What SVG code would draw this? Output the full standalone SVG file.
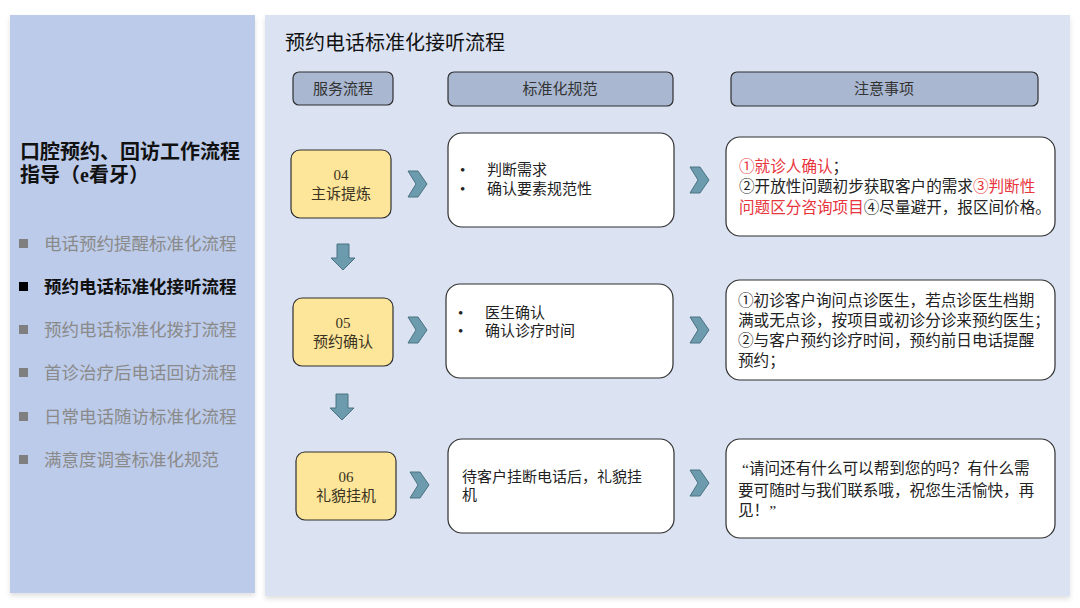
<svg xmlns="http://www.w3.org/2000/svg" width="1080" height="608" viewBox="0 0 1080 608">
<defs>
<style>
.t{font-family:"Liberation Serif","Noto Sans CJK SC",serif;}
.hdr{fill:#a9b7d1;stroke:#2f2f2f;stroke-width:1.2;}
.yel{fill:#fde69a;stroke:#2f2f2f;stroke-width:1.2;}
.wht{fill:#ffffff;stroke:#2f2f2f;stroke-width:1.2;}
.chev{fill:#6c9bad;stroke:#4b7282;stroke-width:1;}
.htxt{font-size:15px;fill:#333;text-anchor:middle;}
.ytxt{font-size:15px;fill:#3b3322;text-anchor:middle;}
.btxt{font-size:15px;fill:#222;}
.ntxt{font-size:15.6px;fill:#222;}
.red{fill:#e8343c;}
.menu{font-size:17.5px;fill:#8a8a8a;}
.sq{fill:#7f7f7f;}
</style>
<filter id="sh" x="-5%" y="-5%" width="110%" height="110%">
<feDropShadow dx="0" dy="3" stdDeviation="2.5" flood-color="#000" flood-opacity="0.12"/>
</filter>
</defs>
<rect width="1080" height="608" fill="#ffffff"/>
<g id="left-panel">
<rect x="10" y="15" width="245" height="578" fill="#bccbe9" filter="url(#sh)"/>
<text class="t" x="20" y="159" font-size="20" fill="#111" font-weight="bold">口腔预约、回访工作流程</text>
<text class="t" x="20" y="182" font-size="20" fill="#111" font-weight="bold">指导（e看牙）</text>
<rect class="sq" x="19" y="239" width="9" height="9"/>
<text class="t menu" x="44" y="250">电话预约提醒标准化流程</text>
<rect x="19" y="282" width="9" height="9" fill="#000"/>
<text class="t menu" x="44" y="293" fill="#111" style="fill:#111" font-weight="bold">预约电话标准化接听流程</text>
<rect class="sq" x="19" y="325" width="9" height="9"/>
<text class="t menu" x="44" y="336">预约电话标准化拨打流程</text>
<rect class="sq" x="19" y="368" width="9" height="9"/>
<text class="t menu" x="44" y="379">首诊治疗后电话回访流程</text>
<rect class="sq" x="19" y="412" width="9" height="9"/>
<text class="t menu" x="44" y="423">日常电话随访标准化流程</text>
<rect class="sq" x="19" y="455" width="9" height="9"/>
<text class="t menu" x="44" y="466">满意度调查标准化规范</text>
</g>
<g id="right-panel">
<rect x="265" y="15" width="805" height="581" fill="#dbe3f3" filter="url(#sh)"/>
<text class="t" x="285" y="50" font-size="20" fill="#111">预约电话标准化接听流程</text>
</g>
<g id="header-service">
<rect class="hdr" x="293" y="72" width="100" height="33" rx="6"/>
<text class="t htxt" x="343" y="94">服务流程</text>
</g>
<g id="header-standard">
<rect class="hdr" x="448" y="72" width="225" height="34" rx="6"/>
<text class="t htxt" x="560" y="94">标准化规范</text>
</g>
<g id="header-notes">
<rect class="hdr" x="731" y="72" width="307" height="34" rx="6"/>
<text class="t htxt" x="884" y="94">注意事项</text>
</g>
<g id="step-04">
<rect class="yel" x="291" y="150" width="100" height="68" rx="9"/>
<text class="t ytxt" x="341" y="180">04</text>
<text class="t ytxt" x="341" y="199">主诉提炼</text>
</g>
<g id="step-05">
<rect class="yel" x="293" y="298" width="100" height="68" rx="9"/>
<text class="t ytxt" x="343" y="328">05</text>
<text class="t ytxt" x="343" y="347">预约确认</text>
</g>
<g id="step-06">
<rect class="yel" x="296" y="452" width="100" height="68" rx="9"/>
<text class="t ytxt" x="346" y="482">06</text>
<text class="t ytxt" x="346" y="501">礼貌挂机</text>
</g>
<g id="std-04">
<rect class="wht" x="448" y="133" width="226" height="94" rx="14"/>
<text class="t btxt" x="460" y="175">•</text>
<text class="t btxt" x="487" y="175">判断需求</text>
<text class="t btxt" x="460" y="194">•</text>
<text class="t btxt" x="487" y="194">确认要素规范性</text>
</g>
<g id="std-05">
<rect class="wht" x="446" y="284" width="227" height="94" rx="14"/>
<text class="t btxt" x="458" y="318">•</text>
<text class="t btxt" x="485" y="318">医生确认</text>
<text class="t btxt" x="458" y="336">•</text>
<text class="t btxt" x="485" y="336">确认诊疗时间</text>
</g>
<g id="std-06">
<rect class="wht" x="448" y="439" width="226" height="94" rx="14"/>
<text class="t btxt" x="462" y="482">待客户挂断电话后，礼貌挂</text>
<text class="t btxt" x="462" y="500">机</text>
</g>
<g id="note-04">
<rect class="wht" x="726" y="137" width="329" height="99" rx="14"/>
<text class="t ntxt" x="739" y="172"><tspan class="red">①就诊人确认</tspan>；</text>
<text class="t ntxt" x="739" y="192">②开放性问题初步获取客户的需求<tspan class="red">③判断性</tspan></text>
<text class="t ntxt" x="739" y="213"><tspan class="red">问题区分咨询项目</tspan>④尽量避开，报区间价格。</text>
</g>
<g id="note-05">
<rect class="wht" x="726" y="280" width="329" height="100" rx="14"/>
<text class="t ntxt" x="738" y="306">①初诊客户询问点诊医生，若点诊医生档期</text>
<text class="t ntxt" x="738" y="326">满或无点诊，按项目或初诊分诊来预约医生；</text>
<text class="t ntxt" x="738" y="346">②与客户预约诊疗时间，预约前日电话提醒</text>
<text class="t ntxt" x="738" y="366">预约；</text>
</g>
<g id="note-06">
<rect class="wht" x="726" y="439" width="329" height="99" rx="14"/>
<text class="t ntxt" x="742" y="474">“请问还有什么可以帮到您的吗？有什么需</text>
<text class="t ntxt" x="738" y="496">要可随时与我们联系哦，祝您生活愉快，再</text>
<text class="t ntxt" x="738" y="516">见！”</text>
</g>
<g id="connectors">
<polygon class="chev" points="408,171 418,171 427,184 418,197 408,197 416,184"/>
<polygon class="chev" points="408,317 418,317 427,330 418,343 408,343 416,330"/>
<polygon class="chev" points="410,472 420,472 429,485 420,498 410,498 418,485"/>
<polygon class="chev" points="690,167 700,167 709,180 700,193 690,193 698,180"/>
<polygon class="chev" points="690,317 700,317 709,330 700,343 690,343 698,330"/>
<polygon class="chev" points="690,470 700,470 709,483 700,496 690,496 698,483"/>
<polygon class="chev" points="337,244 349,244 349,258 355,258 343,270 331,258 337,258"/>
<polygon class="chev" points="336,394 348,394 348,408 354,408 342,420 330,408 336,408"/>
</g>
</svg>
